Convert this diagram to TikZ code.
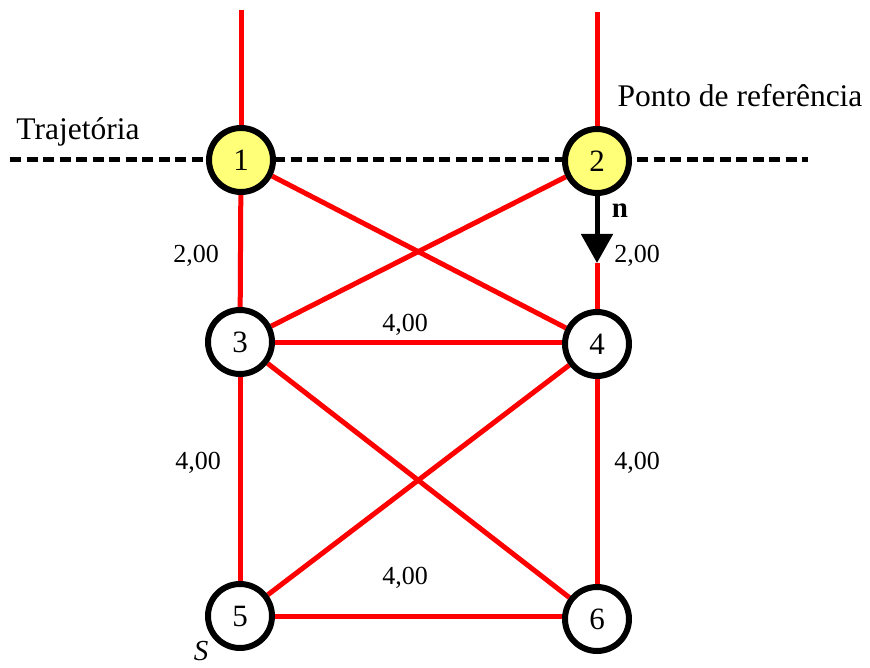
\documentclass[tikz,border=0pt]{standalone}
\usepackage{fontspec}
\setmainfont{Liberation Serif}
\usetikzlibrary{arrows.meta,backgrounds}
\definecolor{nodeyellow}{RGB}{255,255,120}
\begin{document}
\begin{tikzpicture}[x=1pt,y=-1pt,
  vertex/.style={circle,draw=black,line width=6pt,minimum size=64pt,inner sep=0pt,fill=white,font=\fontsize{31}{34}\selectfont},
  refvertex/.style={vertex,fill=nodeyellow},
  bar/.style={draw=red,line width=5pt},
  lbl/.style={font=\fontsize{26}{30}\selectfont},
  big/.style={font=\fontsize{31.5}{36}\selectfont}]
\useasboundingbox (0,0) rectangle (870,668);

% joints
\node[refvertex] (n1) at (241,160) {1};
\node[refvertex] (n2) at (597,161) {2};
\node[vertex] (n3) at (240,342) {3};
\node[vertex] (n4) at (597,344) {4};
\node[vertex] (n5) at (240,616) {5};
\node[vertex] (n6) at (597,619) {6};

\begin{scope}[on background layer]
  % reference line
  \coordinate (tl) at (10,160);
  \coordinate (tr) at (808,160);
  \draw[line width=5pt,dash pattern=on 11pt off 5.5pt] (tl) -- (tr);

  % supports
  \coordinate (s1) at (241,10);
  \coordinate (s2) at (597,12);
  \draw[bar] (s1) -- (n1);
  \draw[bar] (s2) -- (n2);

  % bars
  \draw[bar] (n1) -- (n3);
  \draw[bar] (n1) -- (n4);
  \draw[bar] (n2) -- (n3);
  \draw[bar] (n3) -- (n3 -| n4);
  \draw[bar] (n3) -- (n5);
  \draw[bar] (n3) -- (n6);
  \draw[bar] (n4) -- (n5);
  \draw[bar] (n4) -- (n6);
  \draw[bar] (n5) -- (n5 -| n6);
\end{scope}

% direction n along bar 2-4
\coordinate (tip) at (597,263);
\draw[bar] (tip) -- (n4);
\draw[line width=5pt,-{Triangle[length=29pt,width=31pt]}] (n2) -- (tip);

% labels
\node[font=\fontsize{29}{32}\selectfont\bfseries] (nl) at (620,211) {n};
\node[lbl] (l24) at (637,256) {2,00};
\node[lbl] (l13) at (196,256) {2,00};
\node[lbl] (l34) at (405,325) {4,00};
\node[lbl] (l35) at (198,463) {4,00};
\node[lbl] (l46) at (637,463) {4,00};
\node[lbl] (l56) at (405,578) {4,00};
\node[font=\fontsize{29}{32}\selectfont\itshape] (sl) at (201,651) {S};
\node[big] (traj) at (78,132) {Trajetória};
\node[big] (ref) at (740,96) {Ponto de referência};
\end{tikzpicture}
\end{document}
